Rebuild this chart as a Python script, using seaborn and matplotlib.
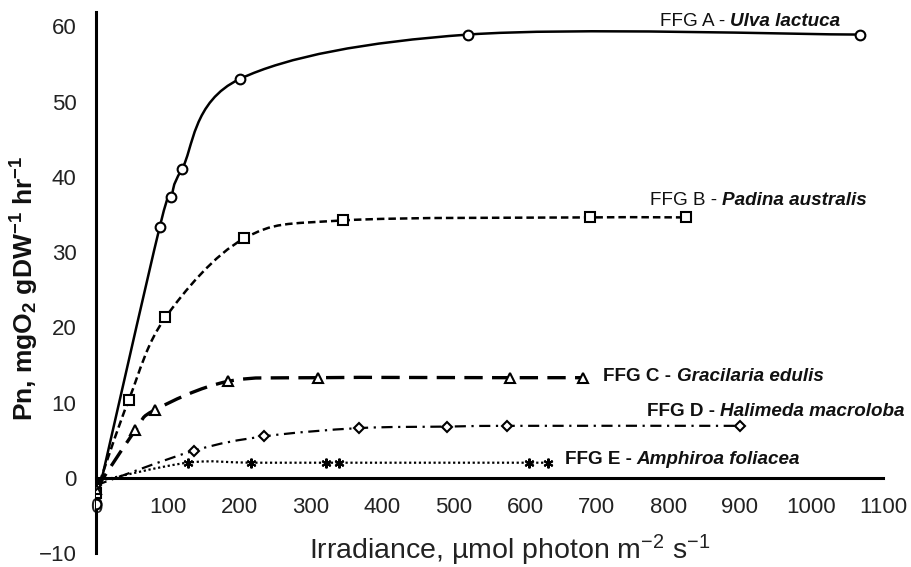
import matplotlib
matplotlib.use('Agg')
import matplotlib.pyplot as plt
from matplotlib.path import Path
from matplotlib.patches import PathPatch
import seaborn as sns

sns.set_theme(style='white')
plt.rcParams['font.family'] = ['Liberation Sans', 'DejaVu Sans']
plt.rcParams['mathtext.fontset'] = 'custom'
plt.rcParams['mathtext.rm'] = 'Liberation Sans'
plt.rcParams['mathtext.it'] = 'Liberation Sans:italic'
plt.rcParams['mathtext.bf'] = 'Liberation Sans:bold'

# ---- data ----
irr_A = [0, 89, 105, 120, 201, 520, 1068]
pn_A = [-3.5, 33.3, 37.3, 41.0, 53.0, 58.9, 58.9]
irr_B = [0, 46, 97, 207, 345, 690, 825]
pn_B = [-2.0, 10.4, 21.3, 31.8, 34.2, 34.6, 34.6]
irr_C = [0, 55, 82, 184, 310, 578, 680]
pn_C = [-1.5, 6.3, 9.0, 12.8, 13.3, 13.3, 13.3]
irr_D = [0, 137, 235, 368, 490, 575, 900]
pn_D = [-1.0, 3.6, 5.5, 6.6, 6.8, 6.9, 6.9]
irr_E = [0, 128, 216, 322, 340, 605, 632]
pn_E = [-0.5, 2.0, 2.0, 2.0, 2.0, 2.0, 2.0]

groups = ['FFG A - ', 'FFG B - ', 'FFG C - ', 'FFG D - ', 'FFG E - ']
species = ['Ulva lactuca', 'Padina australis', 'Gracilaria edulis',
           'Halimeda macroloba', 'Amphiroa foliacea']
xticks = [0, 100, 200, 300, 400, 500, 600, 700, 800, 900, 1000, 1100]
yticks = [-10, 0, 10, 20, 30, 40, 50, 60]


def smooth_path(xs, ys):
    """Excel-style smoothed line: cubic Bezier through the data points."""
    pts = list(zip(xs, ys))
    n = len(pts)
    verts = [pts[0]]
    codes = [Path.MOVETO]
    for i in range(n - 1):
        p0 = pts[i - 1] if i > 0 else pts[i]
        p1 = pts[i]
        p2 = pts[i + 1]
        p3 = pts[i + 2] if i + 2 < n else pts[i + 1]
        c1 = (p1[0] + (p2[0] - p0[0]) / 6, p1[1] + (p2[1] - p0[1]) / 6)
        c2 = (p2[0] - (p3[0] - p1[0]) / 6, p2[1] - (p3[1] - p1[1]) / 6)
        verts += [c1, c2, p2]
        codes += [Path.CURVE4] * 3
    return Path(verts, codes)


fig = plt.figure(figsize=(9.12, 5.67), dpi=100)
ax = fig.add_axes([96/912, 1-553/567, 787/912, (553-12)/567])

series = [
    (irr_A, pn_A, '-', 'o', 1.8, 7),
    (irr_B, pn_B, (0, (3, 1.6)), 's', 1.8, 7),
    (irr_C, pn_C, (0, (5.5, 2.8)), '^', 2.4, 7),
    (irr_D, pn_D, (0, (5, 2.5, 1, 2.5)), 'D', 1.6, 5.5),
    (irr_E, pn_E, (0, (1, 1.2)), (6, 2, 0), 1.6, 7),
]
for xs, ys, ls, mk, lw, ms in series:
    ax.add_patch(PathPatch(smooth_path(xs, ys), fill=False, edgecolor='black',
                           linestyle=ls, lw=lw, zorder=2))
    sns.lineplot(x=xs, y=ys, ax=ax, color='black', linestyle='None',
                 marker=mk, markersize=ms, markerfacecolor='white',
                 markeredgecolor='black', markeredgewidth=1.5,
                 sort=False, estimator=None, zorder=3)

ax.set_xlim(0, 1100)
ax.set_ylim(-10, 61.9)
ax.set_xticks(xticks)
ax.set_yticks(yticks)
for s in ['top', 'right']:
    ax.spines[s].set_visible(False)
ax.spines['bottom'].set_position(('data', 0))
for s in ['left', 'bottom']:
    ax.spines[s].set_color('black')
    ax.spines[s].set_linewidth(2.2)
ax.tick_params(axis='both', direction='in', length=8, width=2, color='black',
               labelsize=16, labelcolor='#222222')
ax.tick_params(axis='x', pad=14)
ax.tick_params(axis='y', pad=14)
ax.set_xlabel('')
ax.set_ylabel('')

lab_pos = [(788, 60.7, False), (774, 36.9, False), (709, 13.5, True),
           (770, 8.8, True), (655, 2.4, True)]
for (lx, ly, bp), g, sp in zip(lab_pos, groups, species):
    t = ax.text(lx, ly, g, fontsize=13.6, fontweight='bold' if bp else 'normal',
                va='center', ha='left', color='#111111')
    ax.annotate(sp, xy=(1, 0), xycoords=t, va='bottom', ha='left',
                fontsize=13.6, fontweight='bold', fontstyle='italic', color='#111111')

fig.text(510/912, 1-559/567, r'Irradiance, µmol photon m$^{-2}$ s$^{-1}$',
         ha='center', va='baseline', fontsize=20.5, color='#222222')
fig.text(25/912, 1-288/567, r'Pn, mgO$_\mathbf{2}$ gDW$^\mathbf{-1}$ hr$^\mathbf{-1}$',
         ha='center', va='center', rotation=90, fontsize=19, fontweight='bold',
         color='#111111')

fig.savefig('out.png', dpi=100)
